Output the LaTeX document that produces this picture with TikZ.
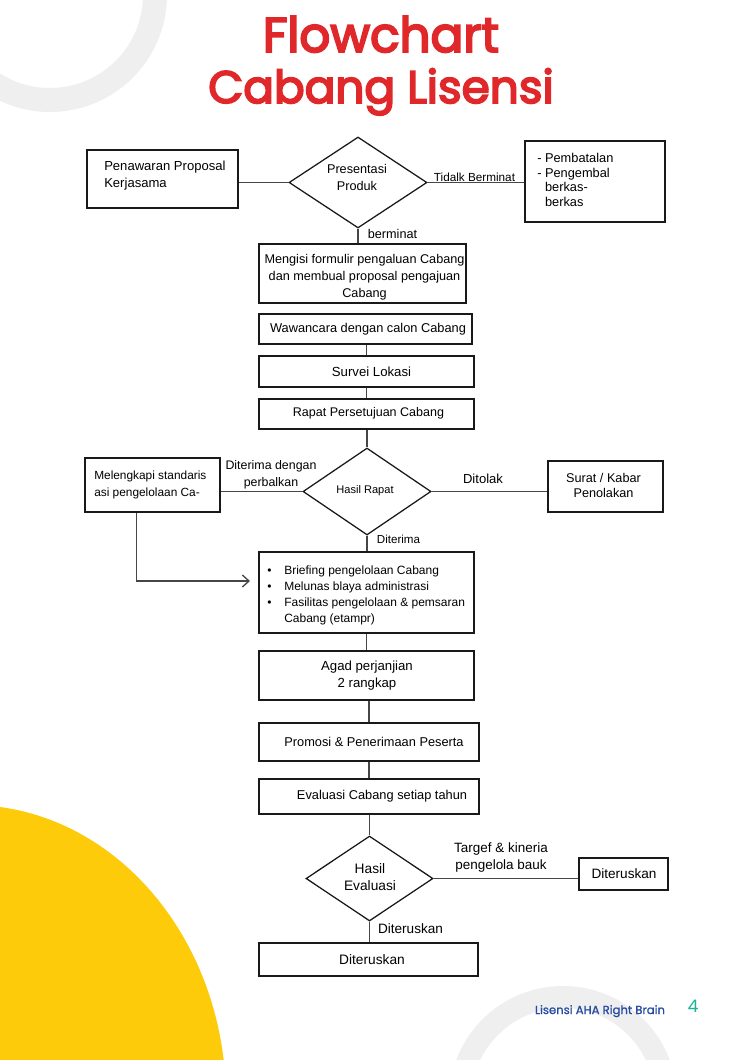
\documentclass[tikz,border=0pt]{standalone}
\usepackage{fontspec}
\usepackage{graphicx}
\setmainfont{Liberation Sans}
\newfontfamily\popfont{Poppins}
\newfontfamily\poptitle[FakeBold=4]{Poppins}
\newfontfamily\popfoot[FakeBold=1.2]{Poppins}
\usetikzlibrary{shapes.geometric,fit,calc,arrows.meta}
\definecolor{titlered}{RGB}{224,40,42}
\definecolor{ybg}{RGB}{253,203,10}
\definecolor{ringgray}{RGB}{239,239,239}
\definecolor{footblue}{RGB}{40,76,160}
\definecolor{footteal}{RGB}{30,178,150}
\definecolor{linegray}{RGB}{70,70,70}
\definecolor{boxline}{RGB}{25,25,25}
\newcommand{\bul}{\makebox[12.75pt][l]{\textbullet}}
\begin{document}
\begin{tikzpicture}[x=0.75pt,y=-0.75pt,
  box/.style={draw=boxline, line width=1.05pt, inner sep=0pt},
  dia/.style={diamond, draw=boxline, line width=0.95pt, inner sep=0pt},
  conn/.style={draw=linegray, line width=1pt},
  tx/.style={inner sep=0pt, font=\fontsize{#1}{12.75}\selectfont}]
\useasboundingbox (0,0) rectangle (750,1060);
\fill[white] (0,0) rectangle (750,1060);
\begin{scope}
\clip (0,0) rectangle (750,1060);
\fill[ringgray, even odd rule] (50,-5) circle[radius=117] (50,-5) circle[radius=93];
\fill[ringgray, even odd rule] (563,1100) circle[radius=114] (563,1100) circle[radius=92];
\fill[ybg] (-30,1100) ellipse[x radius=256, y radius=295];
\end{scope}

% title
\node[anchor=base, inner sep=0, text=titlered] (t1) at (381,52) {\resizebox{177pt}{27pt}{\poptitle Flowchart}};
\node[anchor=base, inner sep=0, text=titlered] (t2) at (381,103) {\resizebox{259pt}{!}{\poptitle Cabang Lisensi}};

% boxes
\node[box, fit={(87,150) (238,208)}] (pen) {};
\node[dia, minimum width=103.5pt, minimum height=68.25pt] (d1) at (358,182.5) {};
\node[box, fit={(525,141) (665,222)}] (pem) {};
\node[box, fit={(259,244) (466,303)}] (meng) {};
\node[box, fit={(259,314) (472,344)}] (waw) {};
\node[box, fit={(259,356) (474,387)}] (surv) {};
\node[box, fit={(259,399) (474,429)}] (rapat) {};
\node[dia, minimum width=96pt, minimum height=65.25pt] (d2) at (367,491.5) {};
\node[box, fit={(85,458) (220,512)}] (mel) {};
\node[box, fit={(548,461) (663,512)}] (surat) {};
\node[box, fit={(259,552) (474,633)}] (brief) {};
\node[box, fit={(259,651) (474,700)}] (agad) {};
\node[box, fit={(259,723) (479,761)}] (prom) {};
\node[box, fit={(259,779) (479,814)}] (eval) {};
\node[dia, minimum width=95.25pt, minimum height=63.75pt] (d3) at (369.5,878.5) {};
\node[box, fit={(579,858) (668,890)}] (dit1) {};
\node[box, fit={(259,943) (478,976)}] (dit2) {};

% box texts
\node[tx=9.8, anchor=west, align=left] (penT) at (104,175.5) {Penawaran Proposal\\Kerjasama};
\node[tx=9.5, align=center] (d1T) at (357,177) {Presentasi\\Produk};
\node[anchor=west, align=left, inner sep=0pt, font=\fontsize{9.6}{11}\selectfont] (pemT) at (537,180) {- Pembatalan\\- Pengembal\\\hphantom{- }berkas-\\\hphantom{- }berkas};
\node[tx=9.5, align=center] (mengT) at (364.5,277) {Mengisi formulir pengaluan Cabang\\dan membual proposal pengajuan\\Cabang};
\node[tx=9.6] (wawT) at (368,329) {Wawancara dengan calon Cabang};
\node[tx=9.9] (survT) at (371.5,371.5) {Survei Lokasi};
\node[tx=9.4] (rapatT) at (368.5,413.5) {Rapat Persetujuan Cabang};
\node[tx=8.3] (d2T) at (365,490.5) {Hasil Rapat};
\node[tx=8.9, anchor=west, align=left] (melT) at (94,484.5) {Melengkapi standaris\\asi pengelolaan Ca-};
\node[anchor=center, align=center, inner sep=0pt, font=\fontsize{9.5}{11.25}\selectfont] (suratT) at (603.5,485.5) {Surat / Kabar\\Penolakan};
\node[anchor=west, align=left, inner sep=0pt, font=\fontsize{9}{12}\selectfont] (briefT) at (267,595) {\bul Briefing pengelolaan Cabang\\\bul Melunas blaya administrasi\\\bul Fasilitas pengelolaan \& pemsaran\\\hspace*{12.75pt}Cabang (etampr)};
\node[tx=9.9, align=center] (agadT) at (367,675.5) {Agad perjanjian\\2 rangkap};
\node[tx=9.6] (promT) at (374,741.5) {Promosi \& Penerimaan Peserta};
\node[tx=9.6] (evalT) at (382,796.5) {Evaluasi Cabang setiap tahun};
\node[tx=10.3, align=center] (d3T) at (370,877.5) {Hasil\\Evaluasi};
\node[tx=10.2] (dit1T) at (624,873.5) {Diteruskan};
\node[tx=10.3] (dit2T) at (372,959.5) {Diteruskan};

% connectors
\draw[conn] (pen.east |- d1.west) -- (d1.west);
\draw[conn] (d1.east) -- (d1.east -| pem.west);
\draw[conn] (d1.south) -- (d1.south |- meng.north);
\draw[conn] (surv.north |- waw.south) -- (surv.north);
\draw[conn] (surv.south) -- (rapat.north);
\draw[conn] (d2.north |- rapat.south) -- (d2.north);
\draw[conn] (mel.east |- d2.west) -- (d2.west);
\draw[conn] (d2.east) -- (d2.east -| surat.west);
\draw[conn] (d2.south) -- (d2.south |- brief.north);
\coordinate (arrEnd) at (250,581);
\draw[conn, -{Straight Barb[length=5pt, width=9pt, line width=1pt]}] ($(mel.south west)!0.385!(mel.south east)$) |- (arrEnd);
\draw[conn] (brief.south) -- (brief.south |- agad.north);
\draw[conn] (prom.north |- agad.south) -- (prom.north);
\draw[conn] (prom.south) -- (eval.north);
\draw[conn] (d3.north |- eval.south) -- (d3.north);
\draw[conn] (d3.east) -- (d3.east -| dit1.west);
\draw[conn] (d3.south) -- (d3.south |- dit2.north);

% connector labels
\node[tx=8.8] (lTB) at (474.5,177.5) {Tidalk Berminat};
\node[tx=9.5] (lBer) at (392.5,234) {berminat};
\node[tx=9.3, align=center] (lDD) at (271,474.5) {Diterima dengan\\perbalkan};
\node[tx=9.8] (lTol) at (483,478.5) {Ditolak};
\node[tx=8.7] (lDit) at (398.5,539.5) {Diterima};
\node[tx=10.1, align=center] (lTK) at (501,858) {Targef \& kineria\\pengelola bauk};
\node[tx=10.2] (lDr) at (410.5,928.5) {Diteruskan};

% footer
\node[anchor=base, inner sep=0, text=footblue] (foot) at (600,1014) {\resizebox{97.5pt}{!}{\popfoot Lisensi AHA Right Brain}};
\node[anchor=base, inner sep=0, text=footteal] (pg) at (693,1012) {\popfont\fontsize{13}{13}\selectfont 4};
\end{tikzpicture}
\end{document}
